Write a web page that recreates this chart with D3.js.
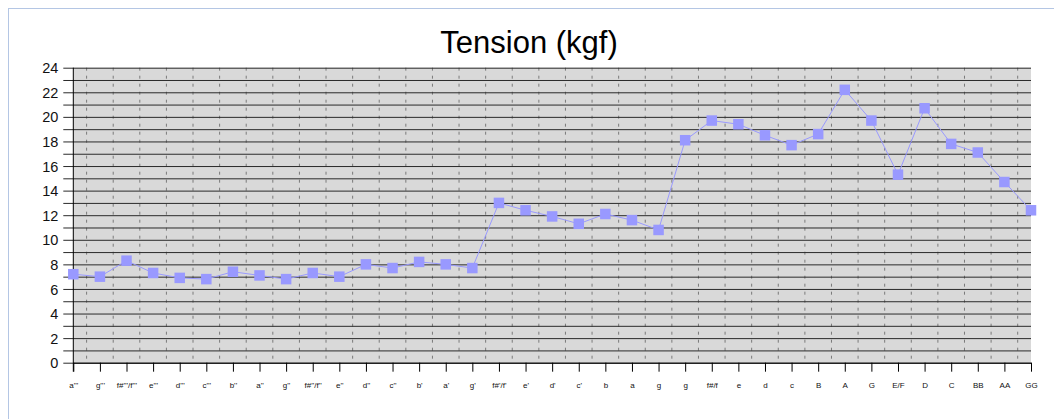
<!DOCTYPE html>
<html>
<head>
<meta charset="utf-8">
<script src="https://cdn.jsdelivr.net/npm/d3@7"></script>
<style>
  body { margin: 0; background: #fff; }
  svg { display: block; font-family: "Liberation Sans", Arial, sans-serif; }
</style>
</head>
<body>
<script>
const w = 1054;
const h = 419;

// string names, high to low
const strings = ["a'''", "g'''", "f#'''/f'''", "e'''", "d'''", "c'''", "b''", "a''", "g''",
  "f#''/f''", "e''", "d''", "c''", "b'", "a'", "g'", "f#'/f'", "e'", "d'", "c'",
  "b", "a", "g", "g", "f#/f", "e", "d", "c", "B", "A", "G", "E/F", "D", "C", "BB", "AA", "GG"];

// tension in kgf
const tension = [7.2, 7.0, 8.3, 7.3, 6.9, 6.8, 7.4, 7.1, 6.8,
  7.3, 7.0, 8.0, 7.7, 8.2, 8.0, 7.7, 13.0, 12.4, 11.9, 11.3,
  12.1, 11.6, 10.8, 18.1, 19.7, 19.4, 18.5, 17.7, 18.6, 22.2, 19.7, 15.3, 20.7, 17.8, 17.1, 14.7, 12.4];

const yTicks = d3.range(0, 25); // a line every 1, label every 2

const plotLeft = 73.3, plotRight = 1031, plotTop = 67.7, plotBottom = 362.7;

let svg = d3.select("body").append("svg")
  .attr("width", w)
  .attr("height", h);

// frame
svg.append("rect")
  .attr("x", 8.5).attr("y", 8.5)
  .attr("width", 1200).attr("height", 600)
  .attr("fill", "none")
  .attr("stroke", "#b4c6e4");

let xScale = d3.scalePoint()
  .domain(d3.range(strings.length))
  .range([plotLeft, plotRight]);

// for the dashed lines between the strings
let xMid = d3.scaleLinear()
  .domain([0, strings.length - 1])
  .range([plotLeft, plotRight]);

let yScale = d3.scaleLinear()
  .domain([0, 24])
  .range([plotBottom, plotTop]);

// plot background
svg.append("rect")
  .attr("x", plotLeft).attr("y", plotTop)
  .attr("width", plotRight - plotLeft).attr("height", plotBottom - plotTop)
  .attr("fill", "#d9d9d9");

// vertical dashed lines
svg.append("g")
  .selectAll("line")
  .data(d3.range(strings.length - 1))
  .enter().append("line")
  .attr("x1", d => xMid(d + 0.5)).attr("x2", d => xMid(d + 0.5))
  .attr("y1", plotTop).attr("y2", plotBottom)
  .attr("stroke", "#7a7a7a")
  .attr("stroke-width", 1)
  .attr("stroke-dasharray", "3,5");

// horizontal grid + y ticks
let yAxis = d3.axisLeft(yScale)
  .tickValues(yTicks)
  .tickSize(-(plotRight - plotLeft) - 10)
  .tickPadding(6)
  .tickFormat(d => d % 2 === 0 ? d : "");

svg.append("g")
  .attr("transform", "translate(" + (plotLeft - 10) + ",0)")
  .call(yAxis)
  .call(g => g.select(".domain").remove())
  .call(g => g.selectAll(".tick line").attr("stroke", "#2a2a2a"))
  .call(g => g.selectAll(".tick text")
    .attr("font-size", 14.5)
    .attr("fill", "#111")
    .attr("font-family", "Liberation Sans, Arial, sans-serif")
    .attr("x", -5)
    .attr("dy", "0.35em"));

// y axis line
svg.append("line")
  .attr("x1", plotLeft).attr("x2", plotLeft)
  .attr("y1", plotTop).attr("y2", plotBottom + 9)
  .attr("stroke", "#000");

// x axis
let xAxis = d3.axisBottom(xScale)
  .tickSize(9)
  .tickSizeOuter(0)
  .tickPadding(10.5)
  .tickFormat(i => strings[i]);

svg.append("g")
  .attr("transform", "translate(0," + plotBottom + ")")
  .call(xAxis)
  .call(g => g.select(".domain").attr("stroke", "#000"))
  .call(g => g.selectAll(".tick line").attr("stroke", "#000"))
  .call(g => g.selectAll(".tick text")
    .attr("font-size", 8)
    .attr("fill", "#111")
    .attr("font-family", "Liberation Sans, Arial, sans-serif"));

// series line
let line = d3.line()
  .x((d, i) => xScale(i))
  .y(d => yScale(d));

svg.append("path")
  .datum(tension)
  .attr("d", line)
  .attr("fill", "none")
  .attr("stroke", "#9999ff")
  .attr("stroke-width", 1);

// markers
const ms = 10.5;
svg.append("g")
  .selectAll("rect")
  .data(tension)
  .enter().append("rect")
  .attr("x", (d, i) => xScale(i) - ms / 2)
  .attr("y", d => yScale(d) - ms / 2)
  .attr("width", ms)
  .attr("height", ms)
  .attr("fill", "#9999ff");

// title
svg.append("text")
  .attr("x", 529)
  .attr("y", 53)
  .attr("text-anchor", "middle")
  .attr("font-size", 31)
  .attr("fill", "#000")
  .text("Tension (kgf)");
</script>
</body>
</html>
